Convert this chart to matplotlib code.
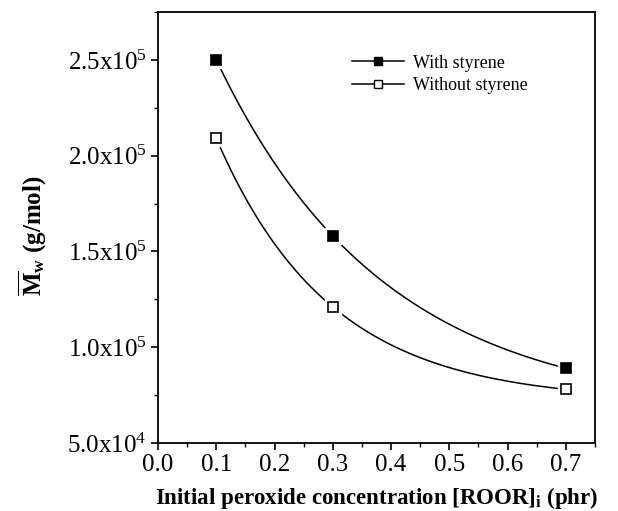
import matplotlib
matplotlib.use('Agg')
import matplotlib.pyplot as plt
import numpy as np
from matplotlib.ticker import MultipleLocator, FuncFormatter
from matplotlib.lines import Line2D

plt.rcParams['font.family'] = 'Liberation Serif'
plt.rcParams['mathtext.fontset'] = 'custom'
plt.rcParams['mathtext.rm'] = 'Liberation Serif'
plt.rcParams['mathtext.it'] = 'Liberation Serif:italic'
plt.rcParams['mathtext.bf'] = 'Liberation Serif:bold'

# data
peroxide = [0.1, 0.3, 0.7]
mw_with_styrene = [2.50e5, 1.58e5, 0.89e5]
mw_without_styrene = [2.09e5, 1.21e5, 0.78e5]
series_labels = ['With styrene', 'Without styrene']


def exp_decay_fit(x, y):
    # y = y0 + A*exp(-x/t) through the three points
    x = np.asarray(x, float)
    y = np.asarray(y, float)
    target = (y[0] - y[1]) / (y[1] - y[2])

    def ratio(t):
        e = np.exp(-x / t)
        return (e[0] - e[1]) / (e[1] - e[2])

    # ratio falls as t grows
    lo, hi = 0.01, 50.0
    for _ in range(200):
        mid = 0.5 * (lo + hi)
        if ratio(mid) > target:
            lo = mid
        else:
            hi = mid
    t = 0.5 * (lo + hi)
    e = np.exp(-x / t)
    A = (y[0] - y[1]) / (e[0] - e[1])
    y0 = y[0] - A * e[0]
    return lambda xx: y0 + A * np.exp(-xx / t)


def sci_label(v, pos):
    if v <= 0:
        return ''
    p = int(np.floor(np.log10(v) + 1e-9))
    return r'%.1fx10$^{%d}$' % (v / 10 ** p, p)


fig = plt.figure(figsize=(6.18, 5.11), dpi=100)
ax = fig.add_axes([0.2557, 0.1331, 0.707, 0.8434])

xs = np.linspace(0.1, 0.7, 200)
for yv, face in [(mw_with_styrene, 'black'), (mw_without_styrene, 'white')]:
    f = exp_decay_fit(peroxide, yv)
    ax.plot(xs, f(xs), color='black', lw=1.1, zorder=2)
    # white halo gives the little gap between curve and marker
    ax.plot(peroxide, yv, ls='none', marker='s', ms=12, mfc='white', mec='white', zorder=3)
    ax.plot(peroxide, yv, ls='none', marker='s', ms=7.5, mfc=face, mec='black', mew=1.2, zorder=4)

ax.set_xlim(0.0, 0.75)
ax.set_ylim(5e4, 2.75e5)
ax.xaxis.set_major_locator(MultipleLocator(0.1))
ax.xaxis.set_minor_locator(MultipleLocator(0.05))
ax.yaxis.set_major_locator(MultipleLocator(5e4))
ax.yaxis.set_minor_locator(MultipleLocator(2.5e4))
ax.xaxis.set_major_formatter(FuncFormatter(lambda v, p: '%.1f' % v))
ax.yaxis.set_major_formatter(FuncFormatter(sci_label))
ax.tick_params(which='major', direction='out', length=5, width=1.2, labelsize=18, pad=3)
ax.tick_params(which='minor', direction='out', length=3, width=1.0)
for s in ax.spines.values():
    s.set_linewidth(1.3)

ax.set_xlabel(r'Initial peroxide concentration [ROOR]$_\mathbf{i}$ (phr)', fontsize=16.5, fontweight='bold')
ax.xaxis.set_label_coords(0.5, -0.097)
ax.set_ylabel(r'$\overline{\mathbf{M}}_{\mathbf{w}}$ (g/mol)', fontsize=18, fontweight='bold')
ax.yaxis.set_label_coords(-0.25, 0.48)

handles = [
    Line2D([], [], color='black', lw=1.1, marker='s', ms=6, mfc='black', mec='black'),
    Line2D([], [], color='black', lw=1.1, marker='s', ms=6, mfc='white', mec='black'),
]
ax.legend(handles, series_labels, loc='upper left', bbox_to_anchor=(0.415, 0.93), frameon=False,
          fontsize=13, handlelength=2.9, handletextpad=0.5, labelspacing=0.3, borderpad=0.2)

fig.savefig('out.png', dpi=100)
